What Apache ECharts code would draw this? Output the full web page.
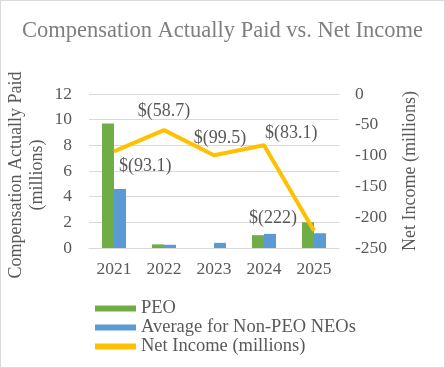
<!DOCTYPE html>
<html>
<head>
<meta charset="utf-8">
<script src="https://cdn.jsdelivr.net/npm/echarts@6/dist/echarts.min.js"></script>
<style>
html,body{margin:0;padding:0;background:#fff;}
#c{width:445px;height:368px;box-sizing:border-box;border:1px solid #d9d9d9;}
</style>
</head>
<body>
<div id="c"></div>
<script>
const years = ['2021', '2022', '2023', '2024', '2025'];
const peo = [9.7, 0.28, 0, 1.0, 2.0];
const nonPeo = [4.6, 0.25, 0.4, 1.1, 1.15];
const netIncome = [-93.1, -58.7, -99.5, -83.1, -222];
const netLabels = ['$(93.1)', '$(58.7)', '$(99.5)', '$(83.1)', '$(222)'];
const leftTicks = [0, 2, 4, 6, 8, 10, 12];
const rightTicks = [-250, -200, -150, -100, -50, 0];
const leftAxisName = 'Compensation Actually Paid\n(millions)';
const rightAxisName = 'Net Income (millions)';

const FONT = "'Liberation Serif', 'Times New Roman', serif";
const TXT = '#595959';
const labelPos = [
  {position: 'right', offset: [0, 15]},
  {position: 'top', distance: 10},
  {position: 'top', distance: 8, offset: [6, 0]},
  {position: 'right', offset: [-4, -12]},
  {position: 'left', offset: [-12, -12]}
];

const chart = echarts.init(document.getElementById('c'), null, {renderer: 'canvas'});
chart.setOption({
  animation: false,
  textStyle: {fontFamily: FONT},
  title: {
    text: 'Compensation Actually Paid vs. Net Income',
    left: 'center', top: 14,
    textStyle: {fontFamily: FONT, fontSize: 22.5, fontWeight: 'normal', color: '#7f7f7f'}
  },
  graphic: [{
    type: 'text', x: 26, y: 174, rotation: Math.PI / 2,
    style: {
      text: leftAxisName, fontFamily: FONT, fontSize: 18, fill: TXT,
      align: 'center', verticalAlign: 'middle', lineHeight: 21
    }
  }],
  legend: {
    orient: 'vertical', left: 94, top: 298, padding: 0,
    itemWidth: 41, itemHeight: 6, itemGap: 0,
    textStyle: {fontFamily: FONT, fontSize: 18.5, color: TXT},
    data: [
      {name: 'PEO', icon: 'rect'},
      {name: 'Average for Non-PEO NEOs', icon: 'rect'},
      {name: 'Net Income (millions)', icon: 'rect', itemStyle: {color: '#ffc000'}}
    ]
  },
  grid: {left: 88, right: 105, top: 93, bottom: 119, containLabel: false, outerBoundsMode: 'none'},
  xAxis: {
    type: 'category', data: years,
    axisLine: {show: true, lineStyle: {color: '#d9d9d9'}},
    axisTick: {show: false},
    axisLabel: {fontFamily: FONT, fontSize: 17.5, color: TXT, margin: 12}
  },
  yAxis: [
    {
      type: 'value', min: leftTicks[0], max: leftTicks[leftTicks.length - 1], interval: 2,
      axisLine: {show: false}, axisTick: {show: false},
      axisLabel: {fontFamily: FONT, fontSize: 17.5, color: TXT, margin: 17},
      splitLine: {lineStyle: {color: '#d9d9d9', width: 1}}
    },
    {
      type: 'value', min: rightTicks[0], max: rightTicks[rightTicks.length - 1], interval: 50,
      name: rightAxisName, nameLocation: 'middle', nameRotate: 90, nameGap: 62,
      nameTextStyle: {fontFamily: FONT, fontSize: 18, color: TXT},
      axisLine: {show: false}, axisTick: {show: false},
      axisLabel: {fontFamily: FONT, fontSize: 17.5, color: TXT, margin: 16},
      splitLine: {show: false}
    }
  ],
  series: [
    {
      name: 'PEO', type: 'bar', data: peo, barWidth: 12, barGap: '0%',
      itemStyle: {color: '#70ad47'}
    },
    {
      name: 'Average for Non-PEO NEOs', type: 'bar', data: nonPeo, barWidth: 12, barGap: '0%',
      itemStyle: {color: '#5b9bd5'}
    },
    {
      name: 'Net Income (millions)', type: 'line', yAxisIndex: 1,
      data: netIncome.map((v, i) => ({value: v, label: Object.assign({show: true, formatter: netLabels[i]}, labelPos[i])})),
      symbol: 'circle', symbolSize: 0.1, showSymbol: true,
      lineStyle: {color: '#ffc000', width: 4}, itemStyle: {color: '#ffc000'},
      label: {show: true, fontFamily: FONT, fontSize: 18, color: TXT}
    }
  ]
});
</script>
</body>
</html>
